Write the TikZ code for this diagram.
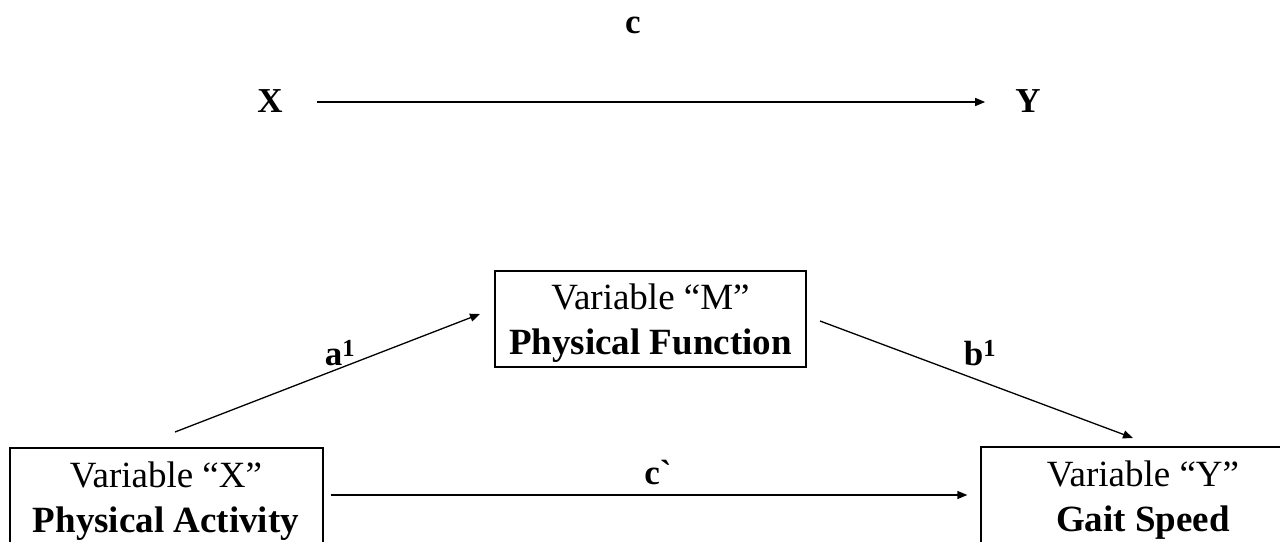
\documentclass[tikz,border=0pt]{standalone}
\usepackage{fontspec}
\setmainfont{Liberation Serif}
\usetikzlibrary{arrows.meta}
\tikzset{
  box/.style={draw, line width=1.3pt, inner sep=0pt},
  boxtext/.style={align=center, inner sep=0pt,
    font=\fontsize{37}{45}\selectfont},
  lab/.style={font=\fontsize{35}{42}\selectfont\bfseries, inner sep=1pt},
  arr/.style={line width=1.3pt, -{Triangle[length=10pt,width=8pt]}}
}
\begin{document}
\begin{tikzpicture}[x=1pt,y=-1pt]
\useasboundingbox (0,0) rectangle (1280,541);
\clip (0,0) rectangle (1280,541);
% top model
\node[lab] (tX) at (270,101) {X};
\node[lab] (tY) at (1028,101) {Y};
\node[lab] (tc) at (633,25) {c};
\draw[arr, shorten <=33pt, shorten >=29pt] (tX.east |- 0,102) -- (tY.west |- 0,102);
% mediation model
\node[box, minimum width=311pt, minimum height=96pt] (M) at (650.5,319) {};
\node[boxtext] (Mt) at (650.5,323) {Variable “M”\\\textbf{Physical Function}};
\node[box, minimum width=313pt, minimum height=104pt] (BX) at (166.5,500) {};
\node[boxtext] (BXt) at (166,501) {Variable “X”\\\textbf{Physical Activity}};
\node[box, minimum width=324pt, minimum height=104pt] (BY) at (1143,499) {};
\node[boxtext] (BYt) at (1143,500) {Variable “Y”\\\textbf{Gait Speed}};
\coordinate (aS) at (175,432);
\coordinate (aE) at (480,314);
\coordinate (bS) at (820,321);
\coordinate (bE) at (1133,438);
\draw[arr] (aS) -- (aE);
\draw[arr] (bS) -- (bE);
\draw[arr, shorten <=7pt, shorten >=13pt] (BX.east |- 0,495) -- (BY.west |- 0,495);
\node[lab] (la) at (340,353) {a\textsuperscript{1}};
\node[lab] (lb) at (980,353) {b\textsuperscript{1}};
\node[lab] (lc) at (658,472) {c\textasciigrave};
\end{tikzpicture}
\end{document}
